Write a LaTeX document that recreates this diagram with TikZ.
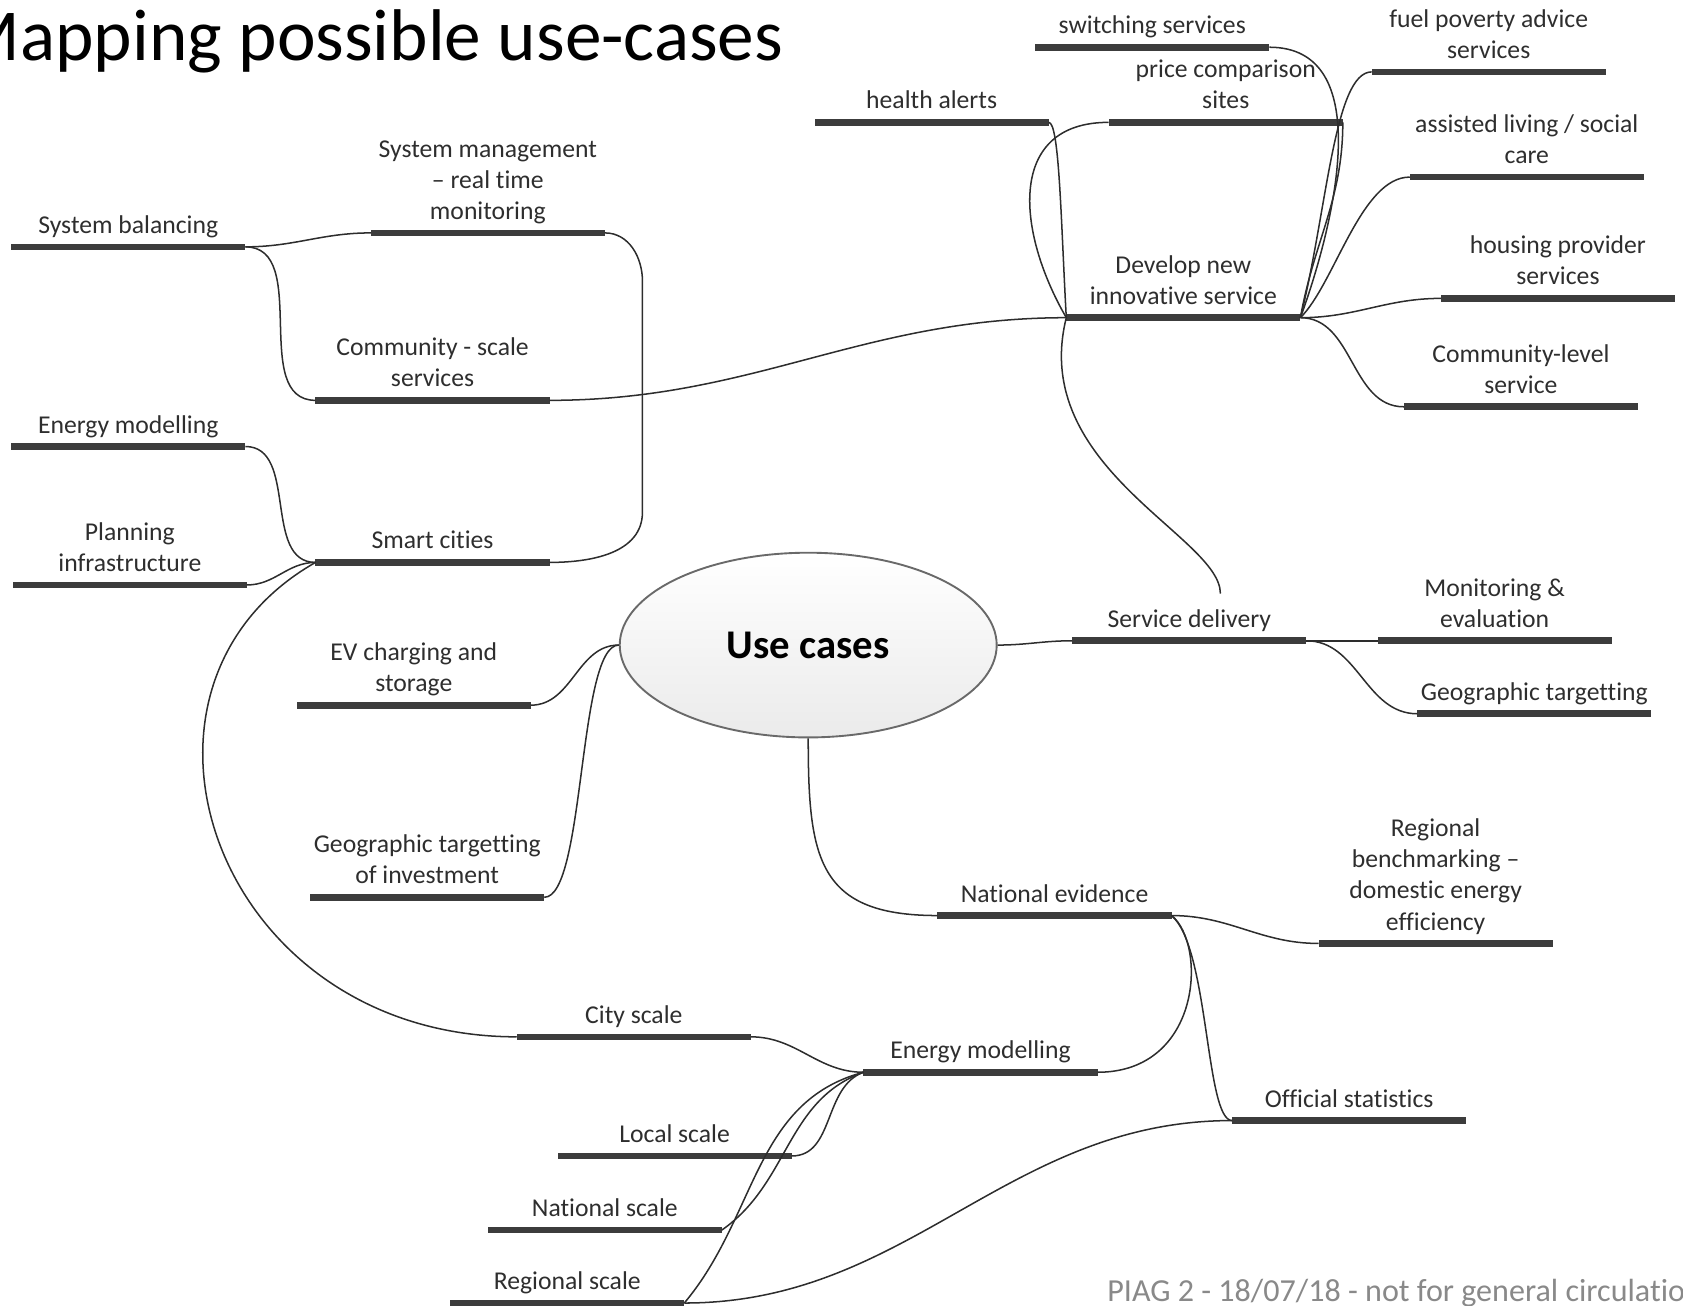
\documentclass[tikz,border=0pt]{standalone}
\usepackage{fontspec}
\setmainfont{Carlito}[Ligatures={TeX,NoCommon}]
\usepackage{tikz}
\usepackage{xcolor}
\usetikzlibrary{shapes,positioning,calc}
\definecolor{barGrey}{RGB}{60,60,60}
\definecolor{lineGrey}{RGB}{45,45,45}
\definecolor{ovalEdge}{RGB}{105,105,105}
\definecolor{footGrey}{RGB}{137,137,137}

\begin{document}
\begin{tikzpicture}[x=0.01cm, y=-0.01cm,
    bar/.style={fill=barGrey, minimum width=2.18cm, minimum height=0.062cm, inner sep=0pt, outer sep=0pt},
    lbl/.style={font=\fontsize{6.8}{8.25}\selectfont, text=black!82, align=center, inner sep=0pt, execute at end node=\strut},
    link/.style={draw=lineGrey, line width=0.4pt}]
    \useasboundingbox (0,0) rectangle (1568,1216);

    % title and footer
    \node[anchor=base west, inner sep=0pt, font=\fontsize{19.4}{23}\selectfont] (title) at (-40,56) {Mapping possible use-cases};
    \node[anchor=base west, inner sep=0pt, text=footGrey, font=\fontsize{8.5}{10}\selectfont] (foot) at (1031,1213) {PIAG 2 - 18/07/18 - not for general circulation};

    % centre
    \node[ellipse, draw=ovalEdge, line width=0.5pt, top color=white, bottom color=black!8, minimum width=3.51cm, minimum height=1.72cm, inner sep=0pt, font=\fontsize{10.8}{13}\selectfont\bfseries] (uc) at (753,601) {Use cases};

    % topics
    \node[bar] (sw) at (1073.5,44) {};
    \node[lbl, above=0pt of sw] (sw-l) {switching services};
    \node[bar] (fpa) at (1387,67) {};
    \node[lbl, above=0pt of fpa] (fpa-l) {fuel poverty advice\\services};
    \node[bar] (ha) at (868,114) {};
    \node[lbl, above=0pt of ha] (ha-l) {health alerts};
    \node[bar] (pcs) at (1142,114) {};
    \node[lbl, above=0pt of pcs] (pcs-l) {price comparison\\sites};
    \node[bar] (alc) at (1422.5,165) {};
    \node[lbl, above=0pt of alc] (alc-l) {assisted living / social\\care};
    \node[bar] (smg) at (454.5,217) {};
    \node[lbl, above=0pt of smg] (smg-l) {System management\\-- real time\\monitoring};
    \node[bar] (sbal) at (119.5,230) {};
    \node[lbl, above=0pt of sbal] (sbal-l) {System balancing};
    \node[bar] (hps) at (1451.5,278) {};
    \node[lbl, above=0pt of hps] (hps-l) {housing provider\\services};
    \node[bar] (dev) at (1102.5,296) {};
    \node[lbl, above=0pt of dev] (dev-l) {Develop new\\innovative service};
    \node[bar] (css) at (403,373) {};
    \node[lbl, above=0pt of css] (css-l) {Community - scale\\services};
    \node[bar] (cls) at (1417,379) {};
    \node[lbl, above=0pt of cls] (cls-l) {Community-level\\service};
    \node[bar] (eml) at (119.5,416) {};
    \node[lbl, above=0pt of eml] (eml-l) {Energy modelling};
    \node[bar] (scit) at (403,524) {};
    \node[lbl, above=0pt of scit] (scit-l) {Smart cities};
    \node[bar] (pinf) at (121,545) {};
    \node[lbl, above=0pt of pinf] (pinf-l) {Planning\\infrastructure};
    \node[bar] (sd) at (1108,597) {};
    \node[lbl, above=0pt of sd] (sd-l) {Service delivery};
    \node[bar] (mev) at (1392.5,597) {};
    \node[lbl, above=0pt of mev] (mev-l) {Monitoring \&\\evaluation};
    \node[bar] (evc) at (385.5,657) {};
    \node[lbl, above=0pt of evc] (evc-l) {EV charging and\\storage};
    \node[bar] (gt) at (1429.5,665) {};
    \node[lbl, above=0pt of gt] (gt-l) {Geographic targetting};
    \node[bar] (gti) at (398,836) {};
    \node[lbl, above=0pt of gti] (gti-l) {Geographic targetting\\of investment};
    \node[bar] (ne) at (982.5,853) {};
    \node[lbl, above=0pt of ne] (ne-l) {National evidence};
    \node[bar] (rb) at (1337.5,879) {};
    \node[lbl, above=0pt of rb] (rb-l) {Regional\\benchmarking --\\domestic energy\\efficiency};
    \node[bar] (cty) at (590.5,966) {};
    \node[lbl, above=0pt of cty] (cty-l) {City scale};
    \node[bar] (emb) at (913.5,999) {};
    \node[lbl, above=0pt of emb] (emb-l) {Energy modelling};
    \node[bar] (ost) at (1257,1044) {};
    \node[lbl, above=0pt of ost] (ost-l) {Official statistics};
    \node[bar] (ls) at (628.5,1077) {};
    \node[lbl, above=0pt of ls] (ls-l) {Local scale};
    \node[bar] (nsc) at (563.5,1146) {};
    \node[lbl, above=0pt of nsc] (nsc-l) {National scale};
    \node[bar] (rs) at (528.5,1214) {};
    \node[lbl, above=0pt of rs] (rs-l) {Regional scale};
    \coordinate (sdtop) at (1137,553);

    % left branches
    \draw[link] (sbal.east) to[out=0,in=180] (smg.west);
    \draw[link] (sbal.east) to[out=0,in=180] (css.west);
    \draw[link] (smg.east) to[out=0,in=90] ++(35,45) -- ++(0,215) to[out=-90,in=0] (scit.east);
    \draw[link] (eml.east) to[out=0,in=180] (scit.west);
    \draw[link] (pinf.east) to[out=0,in=180] (scit.west);
    \draw[link] (scit.west) .. controls +(-204,116) and +(-282,0) .. (cty.west);
    \draw[link] (css.east) to[out=0,in=180] (dev.west);
    \draw[link] (uc.west) to[out=180,in=0] (evc.east);
    \draw[link] (uc.west) to[out=180,in=0,looseness=0.4] (gti.east);

    % top right branches
    \draw[link] (ha.east) .. controls +(10,0) and +(-5,-90) .. (dev.west);
    \draw[link] (dev.west) to[out=120,in=180,looseness=1.3] (pcs.west);
    \draw[link] (sw.east) to[out=0,in=70] (dev.east);
    \draw[link] (pcs.east) to[out=-90,in=80] (dev.east);
    \draw[link] (dev.east) .. controls +(25,-100) and +(-35,0) .. (fpa.west);
    \draw[link] (dev.east) to[out=45,in=180,looseness=0.7] (alc.west);
    \draw[link] (dev.east) to[out=0,in=180] (hps.west);
    \draw[link] (dev.east) to[out=0,in=180] (cls.west);
    \draw[link] (dev.west) .. controls +(-35,140) and +(0,-53) .. (sdtop);

    % service delivery
    \draw[link] (uc.east) to[out=0,in=180] (sd.west);
    \draw[link] (sd.east) -- (mev.west);
    \draw[link] (sd.east) to[out=0,in=180] (gt.west);

    % national evidence and energy modelling
    \draw[link] (uc.south) to[out=-90,in=180,looseness=1.4] (ne.west);
    \draw[link] (ne.east) to[out=0,in=180] (rb.west);
    \draw[link] (ne.east) .. controls +(35,30) and +(-25,0) .. (ost.west);
    \draw[link] (emb.east) .. controls +(97,0) and +(33,27) .. (ne.east);
    \draw[link] (cty.east) to[out=0,in=180] (emb.west);
    \draw[link] (emb.west) to[out=200,in=0] (ls.east);
    \draw[link] (emb.west) to[out=200,in=35] (nsc.east);
    \draw[link] (emb.west) to[out=195,in=50] (rs.east);
    \draw[link] (ost.west) to[out=180,in=0] (rs.east);
\end{tikzpicture}
\end{document}
